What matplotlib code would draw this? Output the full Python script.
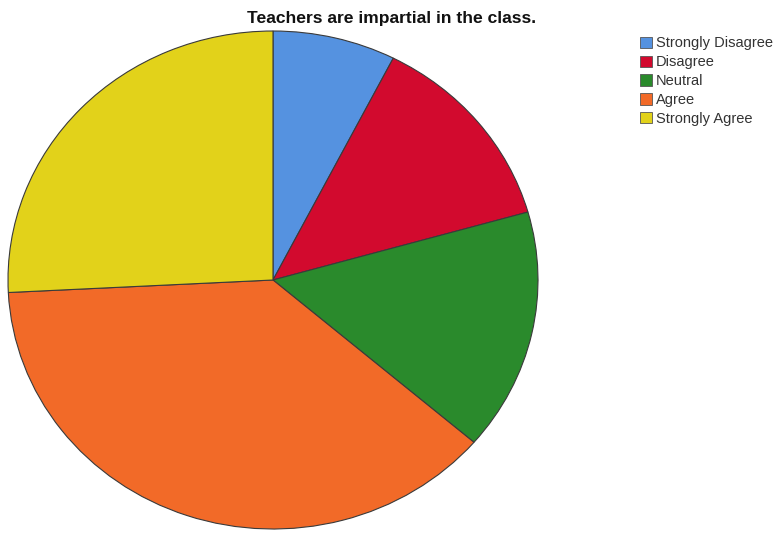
import matplotlib
matplotlib.use("Agg")
import matplotlib.pyplot as plt
from matplotlib.patches import Patch

categories = ["Strongly Disagree", "Disagree", "Neutral", "Agree", "Strongly Agree"]
values = [7.5, 13.1, 15.7, 37.9, 25.8]
colors = ["#5592E0", "#D20A2E", "#2A8A2C", "#F26A28", "#E2D21A"]

plt.rcParams['font.family'] = ['Liberation Sans', 'DejaVu Sans']

W, H = 776, 535
fig = plt.figure(figsize=(W / 100, H / 100), dpi=100)
ax = fig.add_axes([8 / W, (H - 529) / H, 530 / W, 498 / H])
ax.pie(values, colors=colors, startangle=90, counterclock=False,
       wedgeprops=dict(edgecolor="#3a3a3a", linewidth=0.8))
ax.set_aspect('auto')
ax.set_xlim(-1.0, 1.0)
ax.set_ylim(-1.0, 1.0)
ax.axis('off')

fig.text(392 / W, 1 - 19 / H, "Teachers are impartial in the class.",
         ha='center', va='center', fontsize=12.6, fontweight='bold', color="#111111")

handles = [Patch(facecolor=c, edgecolor="#555555", linewidth=0.6) for c in colors]
fig.legend(handles, categories, loc='upper left',
           bbox_to_anchor=(640 / W, 1 - 36.5 / H), frameon=False,
           fontsize=10.5, handlelength=0.82, handleheight=0.82,
           handletextpad=0.25, labelspacing=0.33, borderpad=0, borderaxespad=0,
           labelcolor="#333333")

fig.savefig("out.png", dpi=100, facecolor='white')
